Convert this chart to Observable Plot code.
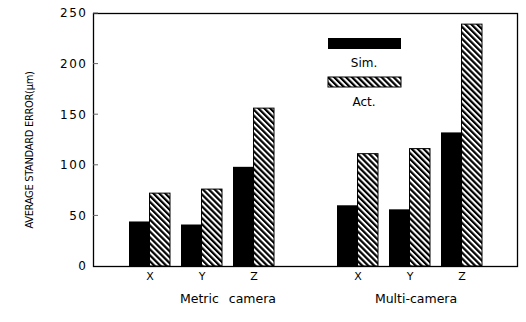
<!DOCTYPE html>
<html><head><meta charset="utf-8">
<script src="https://cdn.jsdelivr.net/npm/d3@7"></script>
<script src="https://cdn.jsdelivr.net/npm/@observablehq/plot@0.6"></script>
<style>
body{margin:0;background:#fff}
svg{font-family:"DejaVu Sans",sans-serif}
</style>
</head><body><div id="chart"></div>
<script>
// ---- data ----
const groups = ["Metric camera", "Multi-camera"];
const axesLabels = ["X", "Y", "Z"];
const simMetric = [44, 41, 98];
const actMetric = [72, 76, 156];
const simMulti = [60, 56, 132];
const actMulti = [111, 116, 239];
const yTicks = [0, 50, 100, 150, 200, 250];
const seriesNames = ["Sim.", "Act."];
const yTitle = "AVERAGE STANDARD ERROR(\u03bcm)";

// ---- table built from arrays ----
const simBy = [simMetric, simMulti], actBy = [actMetric, actMulti];
const rows = [];
groups.forEach((g, gi) => axesLabels.forEach((a, ai) =>
  rows.push({key: g + " " + a, group: g, axis: a, sim: simBy[gi][ai], act: actBy[gi][ai]})));
const xDomain = [...rows.slice(0, 3).map(d => d.key), "gap", ...rows.slice(3).map(d => d.key)];
const axisOf = Object.fromEntries(rows.map(d => [d.key, d.axis]));

const W = 526, H = 322, mL = 93, mR = 9, mT = 13, mB = 56;
const pIn = 0.22, pOut = 0.64;
const band = d3.scaleBand().domain(xDomain).range([mL, W - mR]).paddingInner(pIn).paddingOuter(pOut);
const half = band.bandwidth() / 2;

const plot = Plot.plot({
  width: W, height: H,
  marginLeft: mL, marginRight: mR, marginTop: mT, marginBottom: mB,
  style: {fontFamily: "DejaVu Sans", fontSize: "11px", background: "white", color: "black"},
  x: {type: "band", domain: xDomain, paddingInner: pIn, paddingOuter: pOut,
      tickSize: 0, tickPadding: 6, tickFormat: d => axisOf[d] ?? "", label: null},
  y: {domain: [0, 250], ticks: yTicks, tickSize: 0, tickPadding: 6, label: null, tickFormat: d => String(d)},
  marks: [
    Plot.barY(rows, {x: "key", y: "sim", fill: "black", insetRight: half}),
    Plot.barY(rows, {x: "key", y: "act", fill: "url(#hatch)", stroke: "black", strokeWidth: 1, insetLeft: half}),
    Plot.frame({stroke: "black", strokeWidth: 1.3}),
    Plot.text([groups[0]], {x: () => groups[0] + " Y", text: d => d, frameAnchor: "bottom", dy: 36, dx: 26, fontSize: 12.5, fill: "black"}),
    Plot.text([groups[1]], {x: () => groups[1] + " Y", text: d => d, frameAnchor: "bottom", dy: 36, dx: 6, fontSize: 12.5, fill: "black"})
  ]
});

const svg = d3.select(plot);
const defs = svg.insert("defs", ":first-child");
const pat = defs.append("pattern").attr("id", "hatch").attr("patternUnits", "userSpaceOnUse")
  .attr("width", 4.2).attr("height", 4.2).attr("patternTransform", "rotate(-45)");
pat.append("rect").attr("width", 4.2).attr("height", 4.2).attr("fill", "white");
pat.append("rect").attr("width", 2.2).attr("height", 4.2).attr("fill", "black");

// inward y ticks, positioned with Plot's own y scale
const ys = plot.scale("y");
svg.append("g").attr("stroke", "#666").selectAll("line").data(yTicks.slice(1)).join("line")
  .attr("x1", mL).attr("x2", mL + 5).attr("y1", d => ys.apply(d)).attr("y2", d => ys.apply(d));

// y tick label style
svg.selectAll("g[aria-label='y-axis'] text, g[aria-label='y-axis tick label'] text").style("letter-spacing", "1.5px").style("font-size", "12px");
// group label word spacing
svg.selectAll("text").filter(function(){ return this.textContent === groups[0]; }).style("word-spacing", "6px");

// y title
svg.append("text").attr("transform", "translate(33,150) rotate(-90)").attr("text-anchor", "middle")
  .style("font-family", "'Liberation Sans Narrow','DejaVu Sans Condensed',sans-serif").style("font-size", "11px")
  .style("letter-spacing", "-0.3px")
  .text(yTitle);

// legend
const lg = svg.append("g");
lg.append("rect").attr("x", 328).attr("y", 38).attr("width", 73).attr("height", 11).attr("fill", "black");
lg.append("text").attr("x", 364).attr("y", 67).attr("text-anchor", "middle").style("font-size", "12px").text(seriesNames[0]);
lg.append("rect").attr("x", 328).attr("y", 77).attr("width", 73).attr("height", 10).attr("fill", "url(#hatch)").attr("stroke", "black");
lg.append("text").attr("x", 364).attr("y", 106).attr("text-anchor", "middle").style("font-size", "12px").text(seriesNames[1]);

document.getElementById("chart").append(plot);
</script>
</body></html>
